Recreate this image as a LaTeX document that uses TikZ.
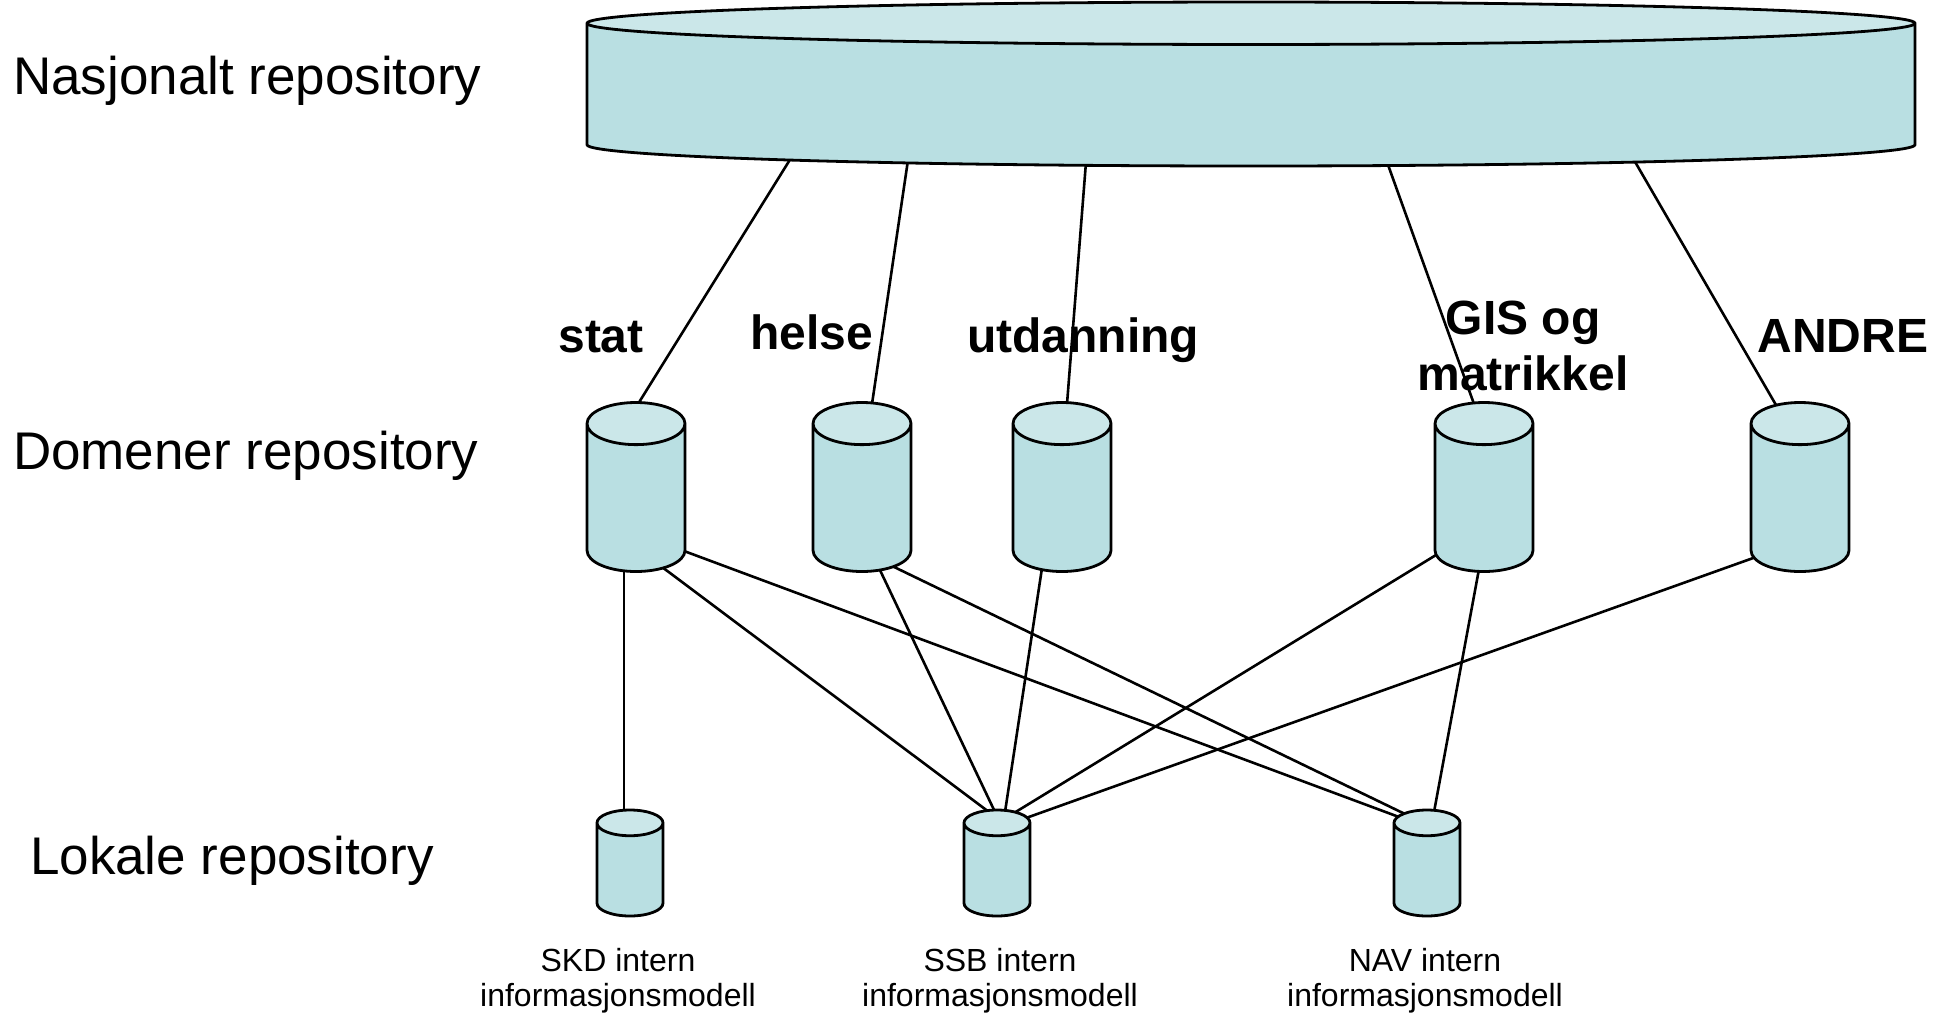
\documentclass[tikz,border=0pt]{standalone}
\usepackage{fontspec}
\setmainfont{Liberation Sans}
\usetikzlibrary{shapes.geometric}
\usetikzlibrary{backgrounds}
\usetikzlibrary{calc}
\definecolor{lyseblaa}{RGB}{185,223,226}
\definecolor{lokk}{RGB}{203,231,233}

\begin{document}
\begin{tikzpicture}[x=0.5pt,y=-0.5pt,
lager/.style={cylinder,shape border rotate=90,draw=black,line width=1.4pt,anchor=shape center,
  cylinder uses custom fill,cylinder body fill=lyseblaa,cylinder end fill=lokk,inner ysep=0pt},
stor/.style={lager,minimum width=664pt,minimum height=82pt,inner xsep=332pt,aspect=0.032},
middels/.style={lager,minimum width=49pt,minimum height=84.5pt,inner xsep=24.5pt,aspect=0.43},
liten/.style={lager,minimum width=33pt,minimum height=53pt,inner xsep=16.5pt,aspect=0.39},
niva/.style={anchor=base west,font=\fontsize{26.5}{30}\selectfont},
domene/.style={font=\bfseries\fontsize{24}{28}\selectfont,align=center},
modell/.style={font=\fontsize{16}{17.5}\selectfont,align=center}]
\useasboundingbox (0,0) rectangle (1950,1018);
\node[stor](nasjonalt) at (1251,84){};
\node[middels](stat) at (636,487){};
\node[middels](helse) at (862,487){};
\node[middels](utdanning) at (1062,487){};
\node[middels](gis) at (1484,487){};
\node[middels](andre) at (1800,487){};
\node[liten](skd) at (630,863){};
\node[liten](ssb) at (997,863){};
\node[liten](nav) at (1427,863){};
\begin{scope}[on background layer]
\begin{scope}[line width=1.3pt]
\draw ($(nasjonalt.shape center)+(-460,74)$)--($(stat.shape center)+(2,-83)$);
\draw ($(nasjonalt.shape center)+(-343,76)$)--($(helse.shape center)+(10,-83)$);
\draw ($(nasjonalt.shape center)+(-165,78)$)--($(utdanning.shape center)+(5,-83)$);
\draw ($(nasjonalt.shape center)+(136,78)$)--($(gis.shape center)+(-10,-83)$);
\draw ($(nasjonalt.shape center)+(383,76)$)--($(andre.shape center)+(-24,-82)$);
\draw ($(stat.shape center)+(-12,82)$)--($(skd.shape center)+(-6,-51)$);
\draw ($(stat.shape center)+(26,80)$)--($(ssb.shape center)+(-8,-51)$);
\draw ($(stat.shape center)+(48,64)$)--($(nav.shape center)+(-28,-46)$);
\draw ($(helse.shape center)+(17,81)$)--($(ssb.shape center)+(-2,-51)$);
\draw ($(helse.shape center)+(28,78)$)--($(nav.shape center)+(-22,-49)$);
\draw ($(utdanning.shape center)+(-20,81)$)--($(ssb.shape center)+(8,-51)$);
\draw ($(gis.shape center)+(-48,68)$)--($(ssb.shape center)+(17,-50)$);
\draw ($(gis.shape center)+(-5,82)$)--($(nav.shape center)+(7,-51)$);
\draw ($(andre.shape center)+(-44,70)$)--($(ssb.shape center)+(29,-45)$);
\end{scope}
\end{scope}
\node[niva](nasjonalt-tekst) at (6,94){Nasjonalt repository};
\node[niva](domener-tekst) at (6,469){Domener repository};
\node[niva](lokale-tekst) at (23,874){Lokale repository};
\node[domene,anchor=base](stat-tekst) at (601,352){stat};
\node[domene,anchor=base](helse-tekst) at (812,349){helse};
\node[domene,anchor=base](utdanning-tekst) at (1083,352){utdanning};
\node[domene](gis-tekst) at (1523,346){GIS og\\matrikkel};
\node[domene,anchor=base](andre-tekst) at (1843,352){ANDRE};
\node[modell](skd-tekst) at (618,981){SKD intern\\informasjonsmodell};
\node[modell](ssb-tekst) at (1000,981){SSB intern\\informasjonsmodell};
\node[modell](nav-tekst) at (1425,981){NAV intern\\informasjonsmodell};
\end{tikzpicture}
\end{document}
